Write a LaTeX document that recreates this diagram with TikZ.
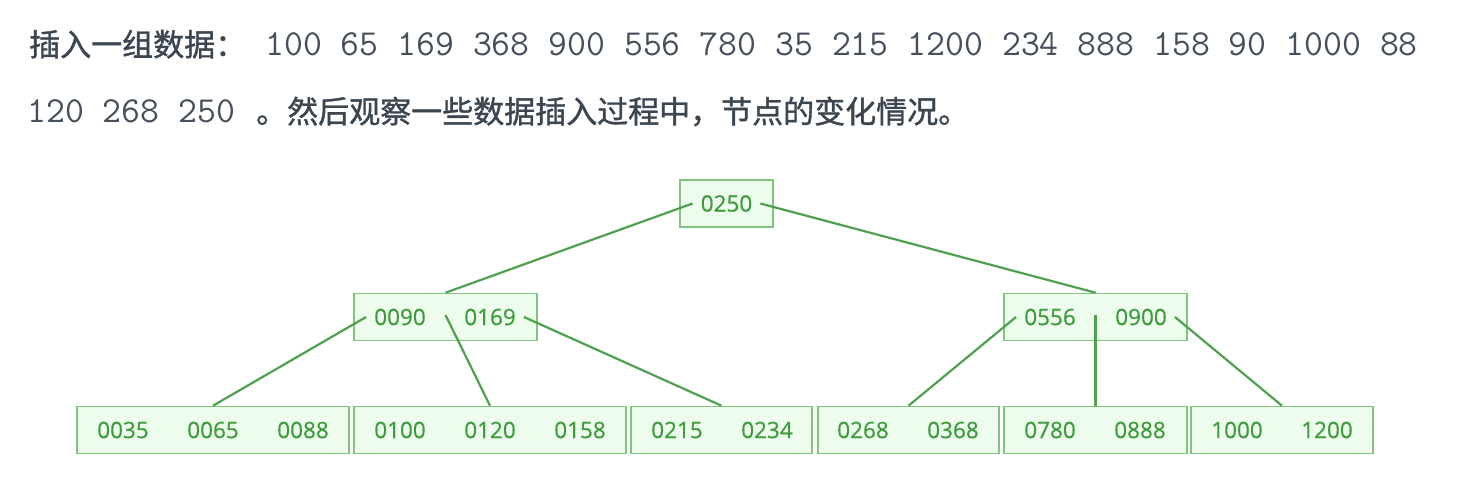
\documentclass[tikz,border=0pt]{standalone}
\usepackage{fontspec}
\setmainfont{Open Sans}
\newfontfamily\cjk[FakeBold=1.2]{Noto Sans CJK SC}
\newfontfamily\keyfont[FakeBold=0.6]{Open Sans}
\definecolor{boxfill}{HTML}{EDFCEC}
\definecolor{bdr}{HTML}{80C480}
\definecolor{keytxt}{HTML}{3E9C3E}
\definecolor{lin}{HTML}{4FA04F}
\definecolor{bodytxt}{HTML}{3B4650}
\definecolor{monotxt}{HTML}{45505C}
\begin{document}
\begin{tikzpicture}[x=1pt,y=-1pt,
  bnode/.style={draw=bdr, fill=boxfill, line width=1.6pt, minimum height=47, inner sep=0pt, anchor=center},
  keyn/.style={font=\keyfont\fontsize{22.5}{22.5}\selectfont, text=keytxt, inner xsep=8pt, inner ysep=2pt, anchor=center},
  conn/.style={draw=lin, line width=2.2pt},
  cjktext/.style={font=\cjk\fontsize{31}{31}\selectfont, text=bodytxt, inner sep=0pt, anchor=base west},
  monotext/.style={font=\ttfamily\fontsize{36.7}{36.7}\selectfont, text=monotxt, inner sep=0pt, anchor=base west}
]
\useasboundingbox (0,0) rectangle (1474,486);
\fill[white] (0,0) rectangle (1474,486);

% header text
\node[cjktext] (h1a) at (29,56) {插入一组数据：};
\node[monotext] (h1b) at (265,56) {100 65 169 368 900 556 780 35 215 1200 234 888 158 90 1000 88};
\node[monotext] (h2a) at (27,123) {120 268 250};
\node[cjktext] (h2b) at (256,123) {。然后观察一些数据插入过程中，节点的变化情况。};

% boxes
\node[bnode, minimum width=93] (root) at (726.5,203.5) {};
\node[bnode, minimum width=183] (m1) at (445.5,317) {};
\node[bnode, minimum width=183] (m2) at (1095.5,317) {};
\node[bnode, minimum width=272] (l1) at (213,430) {};
\node[bnode, minimum width=272] (l2) at (490,430) {};
\node[bnode, minimum width=181] (l3) at (721.5,430) {};
\node[bnode, minimum width=181] (l4) at (908.5,430) {};
\node[bnode, minimum width=183] (l5) at (1095.5,430) {};
\node[bnode, minimum width=182] (l6) at (1282,430) {};

% keys
\node[keyn] (k250) at (726.5,203.5) {0250};
\node[keyn] (k090) at (400,317) {0090};
\node[keyn] (k169) at (490,317) {0169};
\node[keyn] (k556) at (1050,317) {0556};
\node[keyn] (k900) at (1141,317) {0900};
\node[keyn] (k035) at (123,430) {0035};
\node[keyn] (k065) at (213,430) {0065};
\node[keyn] (k088) at (303,430) {0088};
\node[keyn] (k100) at (400,430) {0100};
\node[keyn] (k120) at (490,430) {0120};
\node[keyn] (k158) at (580,430) {0158};
\node[keyn] (k215) at (677,430) {0215};
\node[keyn] (k234) at (767,430) {0234};
\node[keyn] (k268) at (863,430) {0268};
\node[keyn] (k368) at (953,430) {0368};
\node[keyn] (k780) at (1050,430) {0780};
\node[keyn] (k888) at (1140,430) {0888};
\node[keyn] (k1000) at (1237,430) {1000};
\node[keyn] (k1200) at (1327,430) {1200};

% connectors
\draw[conn] (k250.west) -- (m1.north);
\draw[conn] (k250.east) -- (m2.north);
\draw[conn] (k090.west) -- (l1.north);
\draw[conn] ([yshift=2]m1.center) -- (l2.north);
\draw[conn] (k169.east) -- (l3.north);
\draw[conn] (k556.west) -- (l4.north);
\draw[conn] ([yshift=2]m2.center) -- (l5.north);
\draw[conn] (k900.east) -- (l6.north);
\end{tikzpicture}
\end{document}
